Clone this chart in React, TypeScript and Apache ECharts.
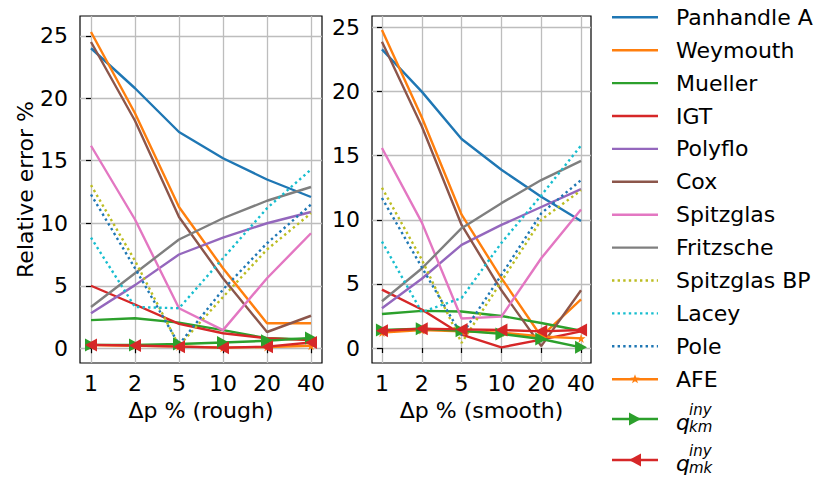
import { useEffect, useRef } from 'react';
import * as echarts from 'echarts';

// Pressure-drop steps shown on the x axis
const categories = ['1', '2', '5', '10', '20', '40'];
const yTicks = [0, 5, 10, 15, 20, 25];

// Relative error (%) per equation, rough pipe
const panhandleRough = [24.0, 20.8, 17.3, 15.2, 13.5, 12.1];
const weymouthRough = [25.3, 18.8, 11.3, 6.4, 2.0, 2.0];
const muellerRough = [2.25, 2.4, 2.05, 1.45, 0.8, 0.7];
const igtRough = [5.0, 3.5, 1.95, 1.2, 0.8, 0.65];
const polyfloRough = [2.8, 5.05, 7.5, 8.85, 10.0, 10.9];
const coxRough = [24.5, 18.2, 10.5, 5.6, 1.3, 2.6];
const spitzglasRough = [16.2, 10.3, 3.2, 1.45, 5.6, 9.2];
const fritzscheRough = [3.3, 6.0, 8.7, 10.4, 11.8, 12.9];
const spitzglasBpRough = [13.05, 7.0, 0.2, 4.1, 7.9, 10.8];
const laceyRough = [8.85, 3.3, 3.2, 7.2, 11.2, 14.3];
const poleRough = [12.3, 6.4, 0.3, 4.7, 8.4, 11.5];
const afeRough = [0.25, 0.2, 0.15, 0.05, 0.1, 0.2];
const qkmRough = [0.27, 0.27, 0.34, 0.46, 0.6, 0.83];
const qmkRough = [0.27, 0.22, 0.13, 0.05, 0.13, 0.46];

// Relative error (%) per equation, smooth pipe
const panhandleSmooth = [23.3, 20.0, 16.3, 13.9, 11.8, 9.9];
const weymouthSmooth = [24.8, 18.0, 10.4, 5.45, 0.9, 3.8];
const muellerSmooth = [2.65, 2.9, 2.85, 2.5, 1.95, 1.35];
const igtSmooth = [4.55, 3.0, 1.05, 0.05, 0.65, 1.3];
const polyfloSmooth = [3.1, 5.4, 8.05, 9.6, 11.0, 12.4];
const coxSmooth = [23.9, 17.3, 9.6, 4.5, 0.15, 4.5];
const spitzglasSmooth = [15.6, 9.8, 2.3, 2.45, 7.0, 10.8];
const fritzscheSmooth = [3.65, 6.2, 9.35, 11.3, 13.1, 14.6];
const spitzglasBpSmooth = [12.5, 6.9, 0.4, 5.2, 10.0, 12.3];
const laceySmooth = [8.3, 2.8, 3.9, 8.2, 11.9, 15.8];
const poleSmooth = [11.7, 6.3, 1.0, 5.7, 10.5, 13.1];
const afeSmooth = [1.2, 1.4, 1.3, 1.2, 0.9, 0.75];
const qkmSmooth = [1.4, 1.5, 1.35, 1.1, 0.7, 0.05];
const qmkSmooth = [1.35, 1.5, 1.45, 1.4, 1.3, 1.4];

type Marker = 'star' | 'right' | 'left';
interface SeriesStyle {
  name: string;
  color: string;
  dotted?: boolean;
  marker?: Marker;
  math?: { base: string; sup: string; sub: string };
}

const seriesStyles: SeriesStyle[] = [
  { name: 'Panhandle A', color: '#1f77b4' },
  { name: 'Weymouth', color: '#ff7f0e' },
  { name: 'Mueller', color: '#2ca02c' },
  { name: 'IGT', color: '#d62728' },
  { name: 'Polyflo', color: '#9467bd' },
  { name: 'Cox', color: '#8c564b' },
  { name: 'Spitzglas', color: '#e377c2' },
  { name: 'Fritzsche', color: '#7f7f7f' },
  { name: 'Spitzglas BP', color: '#bcbd22', dotted: true },
  { name: 'Lacey', color: '#17becf', dotted: true },
  { name: 'Pole', color: '#1f77b4', dotted: true },
  { name: 'AFE', color: '#ff7f0e', marker: 'star' },
  { name: 'q_km', color: '#2ca02c', marker: 'right', math: { base: 'q', sup: 'iny', sub: 'km' } },
  { name: 'q_mk', color: '#d62728', marker: 'left', math: { base: 'q', sup: 'iny', sub: 'mk' } },
];

const roughValues = [
  panhandleRough, weymouthRough, muellerRough, igtRough, polyfloRough, coxRough, spitzglasRough,
  fritzscheRough, spitzglasBpRough, laceyRough, poleRough, afeRough, qkmRough, qmkRough,
];
const smoothValues = [
  panhandleSmooth, weymouthSmooth, muellerSmooth, igtSmooth, polyfloSmooth, coxSmooth, spitzglasSmooth,
  fritzscheSmooth, spitzglasBpSmooth, laceySmooth, poleSmooth, afeSmooth, qkmSmooth, qmkSmooth,
];

const FONT = 'DejaVu Sans';
const LINE_W = 2.4;
const DOTS = [2.4, 3.2];

const STAR_PATH = 'path://M50,0L61,35L98,35L68,57L79,91L50,70L21,91L32,57L2,35L39,35Z';
const RIGHT_TRI = 'path://M0,0L10,5L0,10Z';
const LEFT_TRI = 'path://M10,0L0,5L10,10Z';

function symbolFor(m?: Marker) {
  if (m === 'star') return { symbol: STAR_PATH, symbolSize: 9 };
  if (m === 'right') return { symbol: RIGHT_TRI, symbolSize: [12, 13] };
  if (m === 'left') return { symbol: LEFT_TRI, symbolSize: [12, 13] };
  return { symbol: 'none', symbolSize: 0 };
}

function starPoints(cx: number, cy: number, r: number) {
  const pts: number[][] = [];
  for (let k = 0; k < 10; k++) {
    const rr = k % 2 === 0 ? r : r * 0.4;
    const a = -Math.PI / 2 + (k * Math.PI) / 5;
    pts.push([cx + rr * Math.cos(a), cy + rr * Math.sin(a)]);
  }
  return pts;
}

const panels = [
  { title: 'Δp % (rough)', values: roughValues, grid: { left: 80, top: 16, width: 242, height: 347 }, yMin: -1.18, yMax: 26.58, yName: 'Relative error %' },
  { title: 'Δp % (smooth)', values: smoothValues, grid: { left: 372, top: 16, width: 219, height: 347 }, yMin: -1.17, yMax: 25.9, yName: '' },
];

function buildLegend() {
  const items: any[] = [];
  const lx1 = 612;
  const lx2 = 658;
  const tx = 676;
  seriesStyles.forEach((s, i) => {
    const y = i < 12 ? 17.3 + 32.9 * i : 419 + 41 * (i - 12);
    items.push({
      type: 'line',
      silent: true,
      shape: { x1: lx1, y1: y, x2: lx2, y2: y },
      style: { stroke: s.color, lineWidth: LINE_W, lineDash: s.dotted ? DOTS : null },
    });
    const cx = (lx1 + lx2) / 2;
    if (s.marker === 'star') {
      items.push({ type: 'polygon', silent: true, shape: { points: starPoints(cx, y, 5) }, style: { fill: s.color } });
    } else if (s.marker === 'right') {
      items.push({ type: 'polygon', silent: true, shape: { points: [[cx - 6, y - 6.5], [cx + 6, y], [cx - 6, y + 6.5]] }, style: { fill: s.color } });
    } else if (s.marker === 'left') {
      items.push({ type: 'polygon', silent: true, shape: { points: [[cx + 6, y - 6.5], [cx - 6, y], [cx + 6, y + 6.5]] }, style: { fill: s.color } });
    }
    if (s.math) {
      // q with stacked superscript / subscript
      items.push({ type: 'text', silent: true, x: tx, y: y + 3, style: { text: s.math.base, font: `italic 22px "${FONT}"`, fill: '#000', verticalAlign: 'middle' } });
      items.push({ type: 'text', silent: true, x: tx + 13, y: y - 9, style: { text: s.math.sup, font: `italic 15px "${FONT}"`, fill: '#000', verticalAlign: 'middle' } });
      items.push({ type: 'text', silent: true, x: tx + 13, y: y + 8, style: { text: s.math.sub, font: `italic 15px "${FONT}"`, fill: '#000', verticalAlign: 'middle' } });
    } else {
      items.push({ type: 'text', silent: true, x: tx, y, style: { text: s.name, font: `22px "${FONT}"`, fill: '#000', verticalAlign: 'middle' } });
    }
  });
  return items;
}

export default function App() {
  const ref = useRef<HTMLDivElement>(null);

  useEffect(() => {
    if (!ref.current) return;
    const chart = echarts.init(ref.current, null, { renderer: 'svg' });
    const tickIdx = categories.map((_, i) => i);

    const option: any = {
      animation: false,
      backgroundColor: '#fff',
      grid: panels.map((p) => ({ ...p.grid, show: true, borderColor: '#000', borderWidth: 1.2, backgroundColor: 'transparent', containLabel: false })),
      xAxis: panels.map((p, k) => ({
        type: 'value',
        gridIndex: k,
        min: -0.25,
        max: 5.25,
        name: p.title,
        nameLocation: 'middle',
        nameGap: 36,
        nameTextStyle: { fontFamily: FONT, fontSize: 22, color: '#000' },
        axisLine: { show: false },
        axisTick: { show: true, length: 5, customValues: tickIdx, lineStyle: { color: '#000', width: 1.2 } },
        axisLabel: {
          customValues: tickIdx,
          formatter: (v: number) => categories[Math.round(v)] ?? '',
          fontFamily: FONT,
          fontSize: 22,
          color: '#000',
          margin: 9,
        },
        splitLine: { show: true, lineStyle: { color: '#bdbdbd', width: 1.3 } },
      })),
      yAxis: panels.map((p, k) => ({
        type: 'value',
        gridIndex: k,
        min: p.yMin,
        max: p.yMax,
        name: p.yName,
        nameLocation: 'middle',
        nameGap: 40,
        nameTextStyle: { fontFamily: FONT, fontSize: 22, color: '#000' },
        axisLine: { show: false },
        axisTick: { show: true, length: 5, customValues: yTicks, lineStyle: { color: '#000', width: 1.2 } },
        axisLabel: { customValues: yTicks, fontFamily: FONT, fontSize: 22, color: '#000', margin: 12 },
        splitLine: { show: true, lineStyle: { color: '#bdbdbd', width: 1.3 } },
      })),
      series: panels.flatMap((p, k) =>
        seriesStyles.map((s, i) => {
          const sym = symbolFor(s.marker);
          return {
            type: 'line',
            name: `${s.name} ${k}`,
            xAxisIndex: k,
            yAxisIndex: k,
            data: p.values[i].map((v, j) => [j, v]),
            symbol: sym.symbol,
            symbolSize: sym.symbolSize,
            showSymbol: !!s.marker,
            clip: true,
            silent: true,
            lineStyle: { color: s.color, width: LINE_W, type: s.dotted ? DOTS : 'solid', cap: 'butt' },
            itemStyle: { color: s.color, borderWidth: 0 },
            emphasis: { disabled: true },
          };
        })
      ),
      graphic: buildLegend(),
    };

    chart.setOption(option);
    return () => chart.dispose();
  }, []);

  return <div ref={ref} style={{ position: 'absolute', left: 0, top: 0, width: 817, height: 477 }} />;
}
